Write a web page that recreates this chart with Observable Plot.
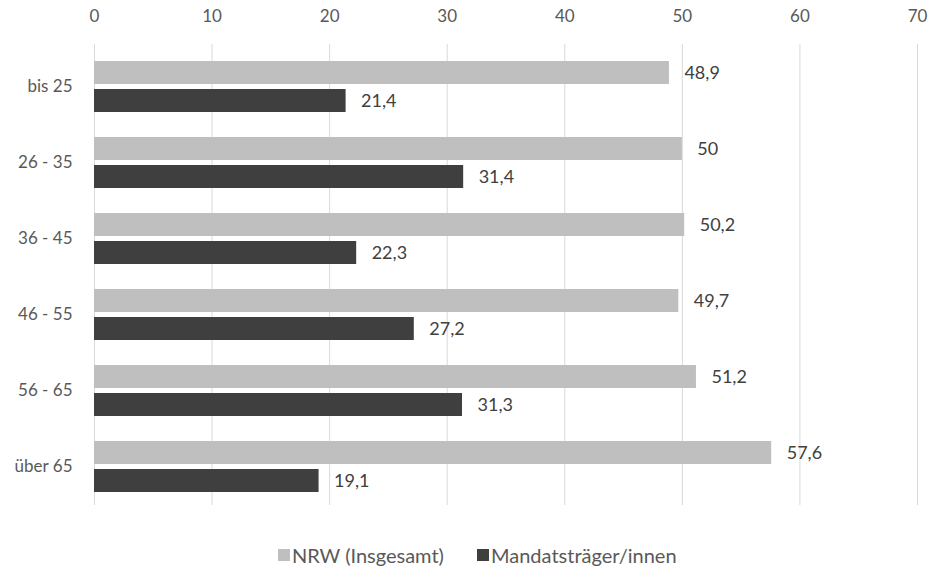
<!DOCTYPE html>
<html>
<head>
<meta charset="utf-8">
<script src="https://cdn.jsdelivr.net/npm/d3@7"></script>
<script src="https://cdn.jsdelivr.net/npm/@observablehq/plot@0.6"></script>
<style>
  body { margin: 0; background: #fff; font-family: Lato, "Open Sans", sans-serif; }
  #chart { width: 931px; }
  .legend { position: relative; height: 40px; margin-top: 38px; font-size: 20px; color: #595959; }
  .legend span.item { position: absolute; top: 0; display: flex; align-items: center; white-space: nowrap; line-height: 24px; }
  .legend span.sw { display: inline-block; width: 12px; height: 12px; margin-right: 2px; }
</style>
</head>
<body>
<div id="chart"></div>
<script>
// Age groups and the share per group (percent)
const ageGroups = ["bis 25", "26 - 35", "36 - 45", "46 - 55", "56 - 65", "über 65"];
const nrwTotal = [48.9, 50, 50.2, 49.7, 51.2, 57.6];
const mandateHolders = [21.4, 31.4, 22.3, 27.2, 31.3, 19.1];
const seriesNames = ["NRW (Insgesamt)", "Mandatsträger/innen"];
const seriesColors = ["#bfbfbf", "#3f3f3f"];
const xTicks = [0, 10, 20, 30, 40, 50, 60, 70];

const nrwRows = ageGroups.map((g, i) => ({ group: g, value: nrwTotal[i] }));
const mandRows = ageGroups.map((g, i) => ({ group: g, value: mandateHolders[i] }));
const fmt = v => String(v).replace(".", ",");

const bandHeight = 52;
const half = bandHeight / 2 + 2;

const chart = Plot.plot({
  width: 931,
  height: 505,
  marginTop: 44,
  marginBottom: 0,
  marginLeft: 94,
  marginRight: 14,
  style: { fontFamily: "Lato, 'Open Sans', sans-serif", fontSize: "17px", color: "#595959", background: "#fff" },
  x: { domain: [0, 70], axis: "top", ticks: xTicks, tickSize: 0, tickPadding: 23, label: null },
  y: { domain: ageGroups, range: [58, 495], paddingInner: 0.323, paddingOuter: 0, tickSize: 0, tickPadding: 22, label: null },
  marks: [
    Plot.ruleX(xTicks, { stroke: "#d9d9d9", strokeWidth: 1 }),
    Plot.barX(nrwRows, { x: "value", y: "group", fill: seriesColors[0], insetBottom: half }),
    Plot.barX(mandRows, { x: "value", y: "group", fill: seriesColors[1], insetTop: half }),
    Plot.text(nrwRows, { x: "value", y: "group", text: d => fmt(d.value), dx: 15, dy: -14, textAnchor: "start", fill: "#404040", fontSize: 18 }),
    Plot.text(mandRows, { x: "value", y: "group", text: d => fmt(d.value), dx: 15, dy: 14, textAnchor: "start", fill: "#404040", fontSize: 18 })
  ]
});
document.getElementById("chart").append(chart);

// Legend below the plot
const legend = document.createElement("div");
legend.className = "legend";
const lefts = [278, 477];
seriesNames.forEach((name, i) => {
  const item = document.createElement("span");
  item.className = "item";
  item.style.left = lefts[i] + "px";
  const sw = document.createElement("span");
  sw.className = "sw";
  sw.style.background = seriesColors[i];
  item.append(sw, document.createTextNode(name));
  legend.append(item);
});
document.getElementById("chart").append(legend);
</script>
</body>
</html>
